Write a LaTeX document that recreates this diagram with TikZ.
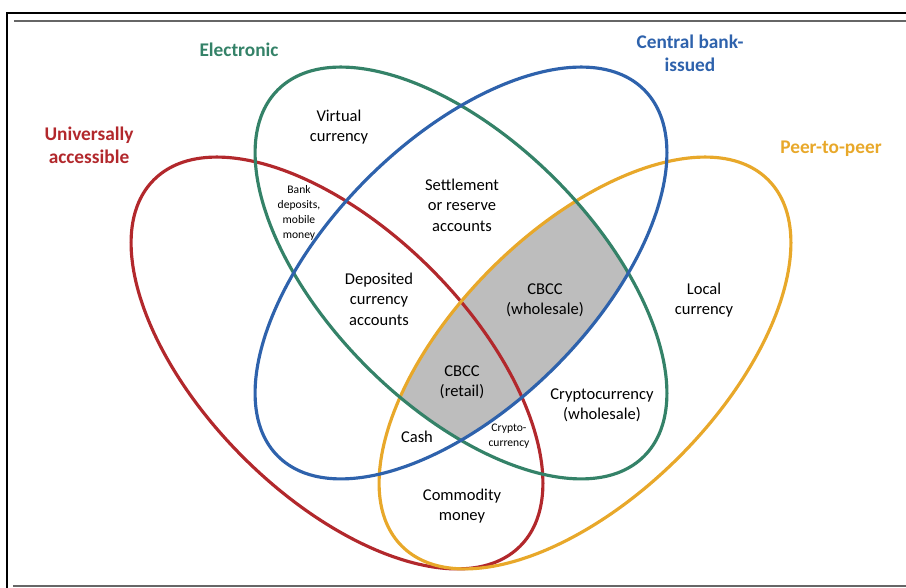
\documentclass[tikz,border=0pt]{standalone}
\usepackage{fontspec}
\setmainfont{Carlito}
\usepackage{tikz}

\definecolor{accred}{RGB}{178,40,44}
\definecolor{elecgreen}{RGB}{52,130,104}
\definecolor{cbblue}{RGB}{46,98,172}
\definecolor{ppyellow}{RGB}{232,168,42}

\tikzset{
	setline/.style={line width=1.8pt},
	setlabel/.style={align=center,font={\fontsize{11}{13}\selectfont\bfseries}},
	regionlabel/.style={align=center,font={\fontsize{9.4}{11.6}\selectfont}},
	smalllabel/.style={align=center,font={\fontsize{6.6}{8.4}\selectfont}}
}

\begin{document}
\begin{tikzpicture}
		\useasboundingbox (0,0) rectangle (18.12,11.76);

		% frame
		\draw[line width=1.1pt] (0.14,0) -- (0.14,11.50) -- (18.12,11.50);
		\draw[line width=0.8pt,black!60] (0.28,11.34) -- (18.12,11.34);
		\draw[line width=0.8pt,black!60] (0.26,0.04) -- (18.12,0.04);

		% shaded region
		\begin{scope}
			\clip[rotate around={-45:(9.22,6.30)}] (9.22,6.30) ellipse (5.18 and 2.66);
			\clip[rotate around={45:(9.22,6.30)}] (9.22,6.30) ellipse (5.18 and 2.66);
			\fill[black!26,rotate around={45:(11.70,4.50)}] (11.70,4.50) ellipse (5.18 and 2.66);
		\end{scope}

		% sets
		\draw[setline,accred,rotate around={-45:(6.74,4.50)}] (6.74,4.50) ellipse (5.18 and 2.66);
		\draw[setline,ppyellow,rotate around={45:(11.70,4.50)}] (11.70,4.50) ellipse (5.18 and 2.66);
		\draw[setline,elecgreen,rotate around={-45:(9.22,6.30)}] (9.22,6.30) ellipse (5.18 and 2.66);
		\draw[setline,cbblue,rotate around={45:(9.22,6.30)}] (9.22,6.30) ellipse (5.18 and 2.66);

		\begin{scope}[every node/.style={setlabel}]
			\node[text=elecgreen] (electronic) at (4.78,10.76) {Electronic};
			\node[text=cbblue] (cbissued) at (13.80,10.70) {Central bank-\\issued};
			\node[text=accred] (universal) at (1.78,8.86) {Universally\\accessible};
			\node[text=ppyellow] (p2p) at (16.62,8.78) {Peer-to-peer};
		\end{scope}

		\begin{scope}[every node/.style={regionlabel}]
			\node (virtual) at (6.78,9.22) {Virtual\\currency};
			\node (settle) at (9.24,7.66) {Settlement\\or reserve\\accounts};
			\node (deposited) at (7.58,5.78) {Deposited\\currency\\accounts};
			\node (cbccw) at (10.90,5.76) {CBCC\\(wholesale)};
			\node (local) at (14.08,5.76) {Local\\currency};
			\node (cbccr) at (9.24,4.12) {CBCC\\(retail)};
			\node (cryptow) at (12.04,3.66) {Cryptocurrency\\(wholesale)};
			\node (cash) at (8.34,3.02) {Cash};
			\node (commodity) at (9.24,1.64) {Commodity\\money};
		\end{scope}

		\begin{scope}[every node/.style={smalllabel}]
			\node (bank) at (5.98,7.50) {Bank\\deposits,\\mobile\\money};
			\node (crypto) at (10.18,3.04) {Crypto-\\currency};
		\end{scope}
		\end{tikzpicture}
\end{document}
